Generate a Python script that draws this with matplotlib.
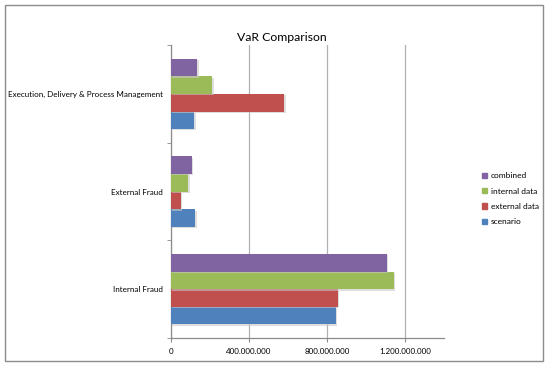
import numpy as np
import matplotlib
matplotlib.use("Agg")
import matplotlib.pyplot as plt
import matplotlib.patheffects as pe
from matplotlib.patches import Rectangle, Patch
from matplotlib.ticker import FuncFormatter

plt.rcParams['font.family'] = ['Lato', 'DejaVu Sans']

# VaR per risk category (bottom to top on the chart)
categories = ['Internal Fraud', 'External Fraud', 'Execution, Delivery & Process Management']
series = ['scenario', 'external data', 'internal data', 'combined']
scenario = [845e6, 125e6, 120e6]
external_data = [855e6, 50e6, 581e6]
internal_data = [1144e6, 89e6, 212e6]
combined = [1106e6, 106e6, 135e6]
values = [scenario, external_data, internal_data, combined]
colors = ['#4F81BD', '#C0504D', '#9BBB59', '#8064A2']

fig = plt.figure(figsize=(5.5, 3.67), dpi=100)
ax = fig.add_axes([0.311, 0.079, 0.496, 0.798])

# outer chart border
fig.patches.append(Rectangle((0.009, 0.016), 0.978, 0.970, transform=fig.transFigure,
                             fill=False, edgecolor='#8c8c8c', linewidth=1.0))

y = np.arange(len(categories))
h = 0.18
shadow = [pe.SimplePatchShadow(offset=(1.0, -1.0), shadow_rgbFace='#c8c8c8', alpha=0.6), pe.Normal()]
for i, (vals, c) in enumerate(zip(values, colors)):
    bars = ax.barh(y + (i - 1.5) * h, vals, height=h, color=c, zorder=3)
    for b in bars:
        b.set_path_effects(shadow)

ax.set_xlim(0, 1.4e9)
ax.set_ylim(-0.5, 2.5)
ax.set_xticks([0, 400e6, 800e6, 1200e6])
ax.xaxis.set_major_formatter(FuncFormatter(lambda v, p: '{:,.0f}'.format(v).replace(',', '.')))
ax.set_yticks(y)
ax.set_yticklabels(categories)
ax.set_yticks([-0.5, 0.5, 1.5, 2.5], minor=True)
ax.tick_params(axis='y', which='major', length=0, labelsize=5.8, pad=6)
ax.tick_params(axis='y', which='minor', length=3, color='#8c8c8c', direction='out')
ax.tick_params(axis='x', length=3, color='#8c8c8c', labelsize=5.8, pad=4)
ax.grid(axis='x', color='#b0b0b0', linewidth=0.9, zorder=0)
for s in ['top', 'right']:
    ax.spines[s].set_visible(False)
for s in ['left', 'bottom']:
    ax.spines[s].set_color('#8c8c8c')
    ax.spines[s].set_linewidth(0.9)

fig.text(0.513, 0.899, 'VaR Comparison', fontsize=8.8, ha='center', va='center')

handles = [Patch(color=c, label=s) for s, c in zip(series, colors)][::-1]
fig.legend(handles=handles, loc='center left', bbox_to_anchor=(0.862, 0.458),
           frameon=False, fontsize=6, handlelength=0.6, handleheight=0.6,
           handletextpad=0.5, labelspacing=1.0)

fig.savefig('out.png', dpi=100)
